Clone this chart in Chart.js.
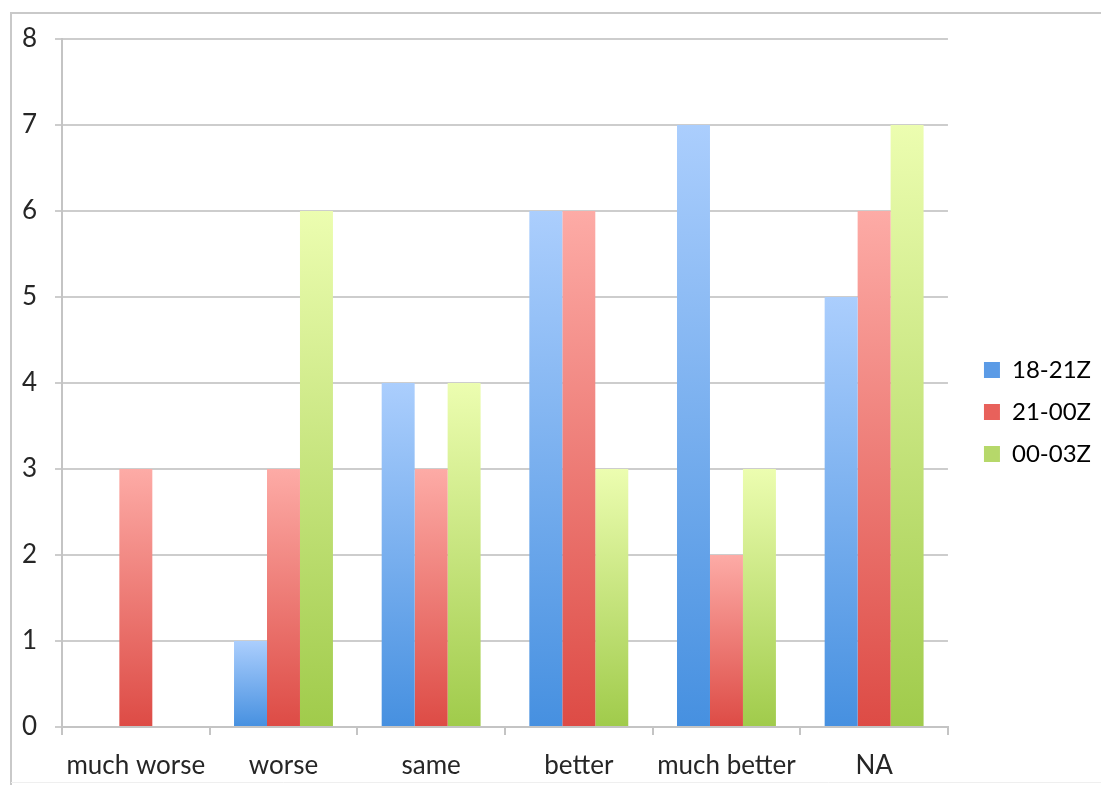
<!DOCTYPE html>
<html>
<head>
<meta charset="utf-8">
<style>
  html, body { margin: 0; padding: 0; background: #ffffff; }
  #wrap { width: 1101px; height: 785px; }
</style>
<script src="https://cdn.jsdelivr.net/npm/chart.js@4/dist/chart.umd.min.js"></script>
</head>
<body>
<div id="wrap"><canvas id="c" width="1101" height="785"></canvas></div>
<script>
// Survey responses per category, one series per time window
const categories = ['much worse', 'worse', 'same', 'better', 'much better', 'NA'];
const series1821 = [0, 1, 4, 6, 7, 5];
const series2100 = [3, 3, 3, 6, 2, 6];
const series0003 = [0, 6, 4, 3, 3, 7];
const seriesNames = ['18-21Z', '21-00Z', '00-03Z'];
const yMin = 0, yMax = 8, yStep = 1;

// Vertical gradient per bar: light at the top, saturated at the base
function barGradient(topColor, bottomColor) {
  return (ctx) => {
    const chart = ctx.chart;
    if (!chart.chartArea || !chart.scales.y || ctx.raw == null) return bottomColor;
    const y = chart.scales.y;
    const yTop = y.getPixelForValue(ctx.raw);
    const yBase = y.getPixelForValue(0);
    if (yBase - yTop < 1) return bottomColor;
    const g = chart.ctx.createLinearGradient(0, yTop, 0, yBase);
    g.addColorStop(0, topColor);
    g.addColorStop(1, bottomColor);
    return g;
  };
}

const palette = [
  { top: '#abcefd', bottom: '#4690e0', key: '#5b9be6' },
  { top: '#fdaba6', bottom: '#dd4b45', key: '#e8615b' },
  { top: '#ecfdb0', bottom: '#a0cb4b', key: '#b6d86a' }
];

// White page with a thin grey frame on the left and top edges
const framePlugin = {
  id: 'frame',
  beforeDraw(chart) {
    const c = chart.ctx;
    c.save();
    c.fillStyle = '#ffffff';
    c.fillRect(0, 0, chart.width, chart.height);
    c.strokeStyle = '#c9c9c9';
    c.lineWidth = 2;
    c.beginPath();
    c.moveTo(11, chart.height);
    c.lineTo(11, 13);
    c.lineTo(chart.width, 13);
    c.stroke();
    c.strokeStyle = '#efefef';
    c.lineWidth = 1;
    c.beginPath();
    c.moveTo(11, 782.5);
    c.lineTo(chart.width, 782.5);
    c.stroke();
    c.restore();
  }
};

const textColor = '#262626';
const fontFamily = 'Lato, "Open Sans", sans-serif';
const fontSize = 26;

new Chart(document.getElementById('c'), {
  type: 'bar',
  data: {
    labels: categories,
    datasets: [series1821, series2100, series0003].map((vals, i) => ({
      label: seriesNames[i],
      data: vals,
      backgroundColor: barGradient(palette[i].top, palette[i].bottom),
      borderWidth: 0,
      categoryPercentage: 0.67,
      barPercentage: 1.0
    }))
  },
  options: {
    responsive: false,
    animation: false,
    layout: { padding: { left: 0, top: 39, right: 0, bottom: 0 } },
    plugins: {
      tooltip: { enabled: false },
      legend: {
        position: 'right',
        labels: {
          boxWidth: 16,
          boxHeight: 16,
          padding: 18,
          color: textColor,
          font: { family: fontFamily, size: 24 },
          generateLabels: (chart) => seriesNames.map((name, i) => ({
            text: name,
            fillStyle: palette[i].key,
            strokeStyle: palette[i].key,
            lineWidth: 0,
            hidden: false,
            datasetIndex: i
          }))
        }
      }
    },
    scales: {
      x: {
        grid: {
          drawOnChartArea: false,
          drawTicks: true,
          tickLength: 8,
          color: '#c4c4c4',
          lineWidth: 2
        },
        border: { color: '#c4c4c4', width: 2 },
        ticks: {
          color: textColor,
          font: { family: fontFamily, size: fontSize },
          padding: 15,
          maxRotation: 0
        },
        afterFit(scale) { scale.height = 58; }
      },
      y: {
        min: yMin,
        max: yMax,
        ticks: {
          stepSize: yStep,
          color: textColor,
          font: { family: fontFamily, size: fontSize },
          padding: 18
        },
        grid: {
          color: '#cdcdcd',
          lineWidth: 2,
          tickLength: 7
        },
        border: { color: '#c4c4c4', width: 2 },
        afterFit(scale) { scale.width = 62; }
      },
      // empty right-hand axis that only keeps a gap between plot and legend
      gap: {
        type: 'linear',
        position: 'right',
        grid: { display: false, drawTicks: false },
        border: { display: false },
        ticks: { display: false },
        afterFit(scale) { scale.width = 18; }
      }
    }
  },
  plugins: [framePlugin]
});
</script>
</body>
</html>
